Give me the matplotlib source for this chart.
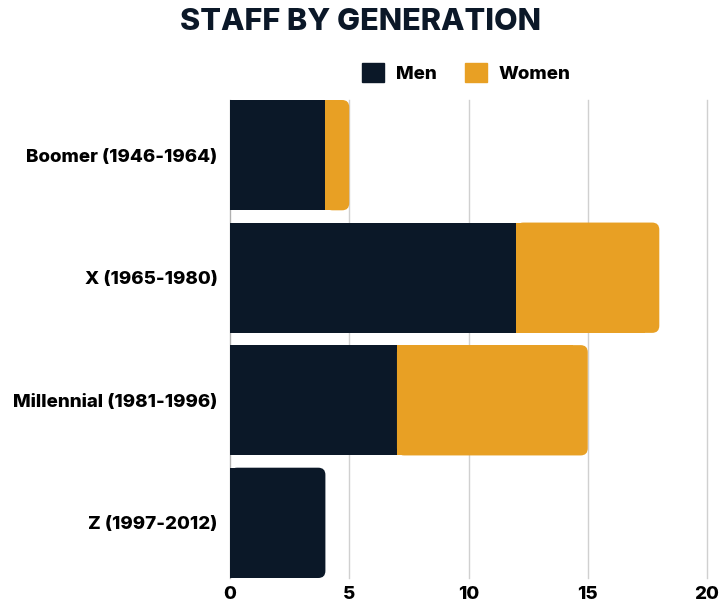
import numpy as np
import matplotlib.pyplot as plt
from matplotlib.patches import FancyBboxPatch, Patch

generations = ["Boomer (1946-1964)", "X (1965-1980)", "Millennial (1981-1996)", "Z (1997-2012)"]
men = [4, 12, 7, 4]
women = [1, 6, 8, 0]
x_ticks = [0, 5, 10, 15, 20]

NAVY = "#0b1828"
ORANGE = "#e8a024"
GRID = "#d0d0d0"

plt.rcParams['font.family'] = ['Inter', 'DejaVu Sans']
plt.rcParams['font.weight'] = 'heavy'

fig = plt.figure(figsize=(7.21, 6.07), dpi=100)
ax = fig.add_axes([230/721, 29/607, 477/721, 478/607])

bar_h = 0.9
# rounding radius in data units (x) and aspect for y
r = 0.3
aspect = (7/122.3) / (7/23.85)

y = np.arange(len(generations))
for i, (m, w) in enumerate(zip(men, women)):
    segs = [(0, m, NAVY), (m, w, ORANGE)]
    segs = [s for s in segs if s[1] > 0]
    for j, (start, width, col) in enumerate(segs):
        if j == len(segs) - 1:
            # last segment: rounded right end, square left
            p = FancyBboxPatch((start, y[i] - bar_h/2), width, bar_h,
                               boxstyle="round,pad=0,rounding_size=%g" % r,
                               mutation_aspect=aspect, fc=col, ec='none', zorder=3)
            ax.add_patch(p)
            ax.barh(y[i], width - 2*r, left=start, height=bar_h, color=col, zorder=3)
        else:
            ax.barh(y[i], width, left=start, height=bar_h, color=col, zorder=3)

ax.set_xlim(0, 20)
ax.set_ylim(len(generations) - 0.55, -0.45)
ax.set_xticks(x_ticks)
ax.set_yticks(y)
ax.set_yticklabels(generations, fontsize=13.5, fontweight='heavy', color='black')
ax.tick_params(axis='y', length=0, pad=9)
ax.tick_params(axis='x', length=0, pad=6, labelsize=13.5, labelcolor='black')
for lbl in ax.get_xticklabels():
    lbl.set_fontweight('heavy')

for t in x_ticks:
    ax.axvline(t, color=GRID, lw=1, zorder=1, clip_on=False)
for s in ['top', 'right', 'bottom']:
    ax.spines[s].set_visible(False)
ax.spines['left'].set_color('#b0b0b0')

fig.text(0.5, 1 - 22/607, "STAFF BY GENERATION", ha='center', va='center',
         fontsize=22, fontweight='heavy', color=NAVY)

handles = [Patch(color=NAVY, label="Men"), Patch(color=ORANGE, label="Women")]
fig.legend(handles=handles, loc='center', bbox_to_anchor=(466/721, 1 - 73/607), ncol=2,
           frameon=False, handlelength=1.2, handleheight=1.2,
           handletextpad=0.6, columnspacing=1.5, prop={'weight': 'heavy', 'size': 13.5})

fig.savefig("out.png", dpi=100)
